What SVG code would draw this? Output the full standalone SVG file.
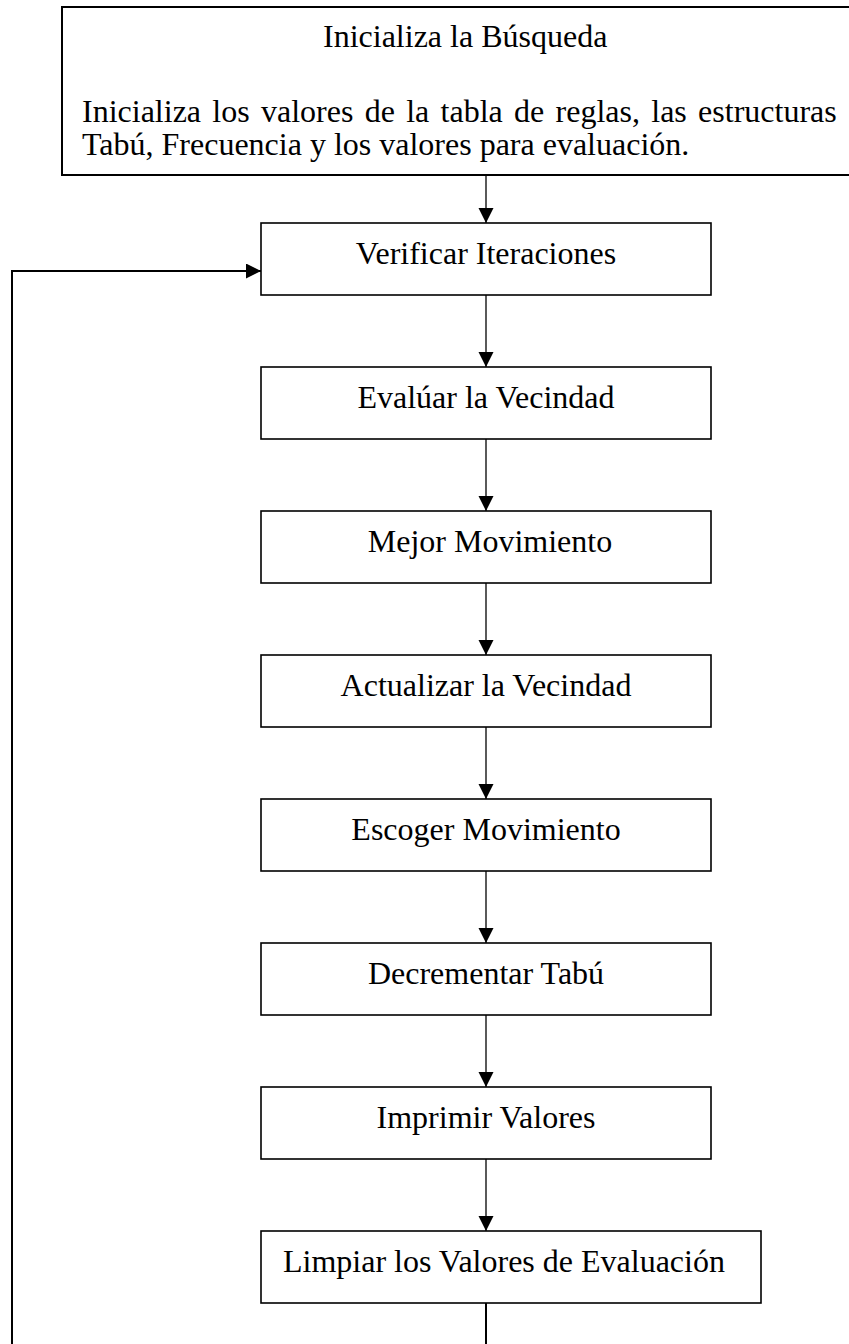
<svg xmlns="http://www.w3.org/2000/svg" width="849" height="1344" viewBox="0 0 849 1344">
<style>
.box{fill:#fff;stroke:#000;stroke-width:1.6}
.top{fill:#fff;stroke:#000;stroke-width:2}
.t{font-family:"Liberation Serif","Times New Roman",serif;font-size:32px;fill:#000}
.c{text-anchor:middle}
.arr{fill:none;stroke:#000;stroke-width:1.3}
.fb{fill:none;stroke:#000;stroke-width:2}
</style>
<defs>
<marker id="ah" markerUnits="userSpaceOnUse" markerWidth="16" markerHeight="16" refX="15" refY="7.5" orient="auto">
<path d="M0,0 L15,7.5 L0,15 z" fill="#000"/>
</marker>
</defs>
<rect width="849" height="1344" fill="#fff"/>
<g id="connectors">
<path class="arr" d="M486,175 V223" marker-end="url(#ah)"/>
<path class="arr" d="M486,295 V367" marker-end="url(#ah)"/>
<path class="arr" d="M486,439 V511" marker-end="url(#ah)"/>
<path class="arr" d="M486,583 V655" marker-end="url(#ah)"/>
<path class="arr" d="M486,727 V799" marker-end="url(#ah)"/>
<path class="arr" d="M486,871 V943" marker-end="url(#ah)"/>
<path class="arr" d="M486,1015 V1087" marker-end="url(#ah)"/>
<path class="arr" d="M486,1159 V1231" marker-end="url(#ah)"/>
<path class="fb" d="M486,1303 V1350 H12 V271 H261" marker-end="url(#ah)"/>
</g>
<g id="n0">
<rect class="top" x="62" y="7" width="800" height="168"/>
<text class="t" x="323" y="47">Inicializa la Búsqueda</text>
<text class="t" x="82" y="122" word-spacing="3.3">Inicializa los valores de la tabla de reglas, las estructuras</text>
<text class="t" x="82" y="155">Tabú, Frecuencia y los valores para evaluación.</text>
</g>
<g id="n1"><rect class="box" x="261" y="223" width="450" height="72"/><text class="t c" x="486" y="264">Verificar Iteraciones</text></g>
<g id="n2"><rect class="box" x="261" y="367" width="450" height="72"/><text class="t c" x="486" y="408">Evalúar la Vecindad</text></g>
<g id="n3"><rect class="box" x="261" y="511" width="450" height="72"/><text class="t c" x="490" y="552">Mejor Movimiento</text></g>
<g id="n4"><rect class="box" x="261" y="655" width="450" height="72"/><text class="t c" x="486" y="696">Actualizar la Vecindad</text></g>
<g id="n5"><rect class="box" x="261" y="799" width="450" height="72"/><text class="t c" x="486" y="840">Escoger Movimiento</text></g>
<g id="n6"><rect class="box" x="261" y="943" width="450" height="72"/><text class="t c" x="486" y="984">Decrementar Tabú</text></g>
<g id="n7"><rect class="box" x="261" y="1087" width="450" height="72"/><text class="t c" x="486" y="1128">Imprimir Valores</text></g>
<g id="n8"><rect class="box" x="261" y="1231" width="500" height="72"/><text class="t" x="283" y="1272">Limpiar los Valores de Evaluación</text></g>
</svg>
